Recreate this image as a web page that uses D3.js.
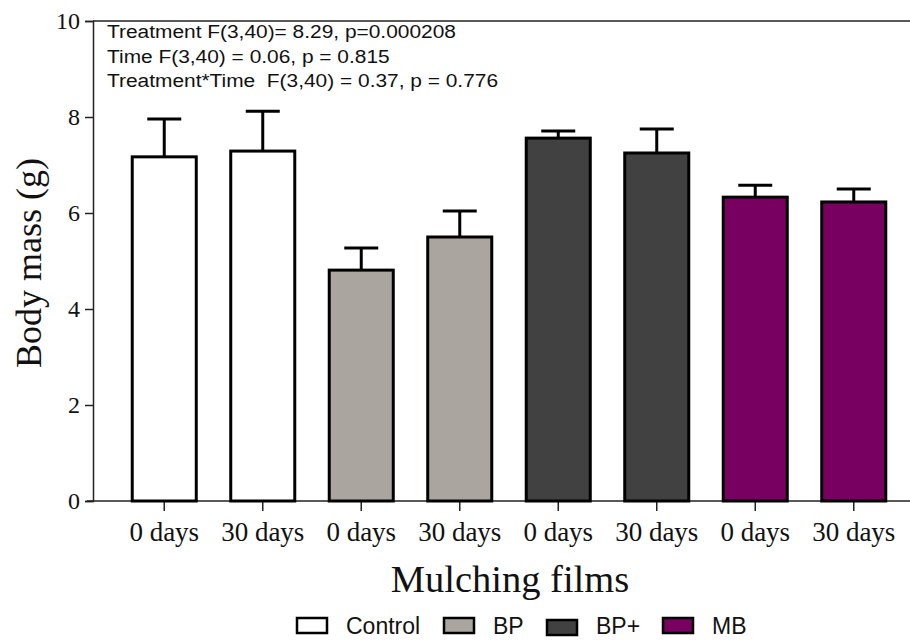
<!DOCTYPE html>
<html>
<head>
<meta charset="utf-8">
<script src="https://cdn.jsdelivr.net/npm/d3@7"></script>
<style>
  html, body { margin: 0; padding: 0; background: #fff; }
  svg { display: block; }
</style>
</head>
<body>
<svg id="chart" width="910" height="640"></svg>
<script>
// Body mass by mulching film treatment and exposure time
const timeLabels = ["0 days", "30 days", "0 days", "30 days", "0 days", "30 days", "0 days", "30 days"];
const groupOf    = ["Control", "Control", "BP", "BP", "BP+", "BP+", "MB", "MB"];
const meanMass   = [7.17, 7.29, 4.81, 5.50, 7.56, 7.25, 6.33, 6.23];
const errUpper   = [0.79, 0.83, 0.46, 0.54, 0.15, 0.50, 0.25, 0.27];
const groups     = ["Control", "BP", "BP+", "MB"];
const groupFill  = ["#ffffff", "#aaa59f", "#414141", "#780060"];
const yTicks     = [0, 2, 4, 6, 8, 10];
const statLines  = [
  "Treatment F(3,40)= 8.29, p=0.000208",
  "Time F(3,40) = 0.06, p = 0.815",
  "Treatment*Time  F(3,40) = 0.37, p = 0.776"
];

const svg = d3.select("#chart");
const plotLeft = 93, plotTop = 21, plotBottom = 501, plotRight = 910;
const serif = "'Liberation Serif', 'Times New Roman', serif";
const sans = "'Liberation Sans', Arial, sans-serif";

const x = d3.scaleBand()
  .domain(d3.range(meanMass.length))
  .range([115, 903])
  .paddingInner(0.35)
  .paddingOuter(0.175);

const y = d3.scaleLinear().domain([0, 10]).range([plotBottom, plotTop]);
const fill = d3.scaleOrdinal().domain(groups).range(groupFill);

// top border of the plot area
svg.append("line").attr("x1", plotLeft).attr("x2", plotRight).attr("y1", plotTop).attr("y2", plotTop)
  .attr("stroke", "#222").attr("stroke-width", 1.5);

// y axis
const yAxis = svg.append("g").attr("transform", `translate(${plotLeft},0)`)
  .call(d3.axisLeft(y).tickValues(yTicks).tickSize(8).tickPadding(5).tickFormat(d3.format("d")));
yAxis.select(".domain").attr("stroke", "#222").attr("stroke-width", 1.5);
yAxis.selectAll(".tick line").attr("stroke", "#222").attr("stroke-width", 1.5);
yAxis.selectAll("text").attr("font-family", serif).attr("font-size", 24).attr("fill", "#111");

// x axis
const xAxis = svg.append("g").attr("transform", `translate(0,${plotBottom})`)
  .call(d3.axisBottom(x).tickSize(10).tickPadding(11).tickFormat(i => timeLabels[i]));
xAxis.select(".domain").remove();
xAxis.append("line").attr("x1", plotLeft - 6).attr("x2", plotRight).attr("stroke", "#222").attr("stroke-width", 1.5);
xAxis.selectAll(".tick line").attr("stroke", "#222").attr("stroke-width", 1.5);
xAxis.selectAll("text").attr("font-family", serif).attr("font-size", 27).attr("fill", "#111");

// error bars (upper only)
const capHalf = 17;
const errs = svg.append("g");
meanMass.forEach((m, i) => {
  const cx = x(i) + x.bandwidth() / 2;
  errs.append("line").attr("x1", cx).attr("x2", cx)
    .attr("y1", y(m)).attr("y2", y(m + errUpper[i]))
    .attr("stroke", "#000").attr("stroke-width", 3);
  errs.append("line").attr("x1", cx - capHalf).attr("x2", cx + capHalf)
    .attr("y1", y(m + errUpper[i])).attr("y2", y(m + errUpper[i]))
    .attr("stroke", "#000").attr("stroke-width", 3);
});

// bars
svg.append("g").selectAll("rect").data(meanMass).join("rect")
  .attr("x", (d, i) => x(i))
  .attr("width", x.bandwidth())
  .attr("y", d => y(d))
  .attr("height", d => y(0) - y(d))
  .attr("fill", (d, i) => fill(groupOf[i]))
  .attr("stroke", "#000").attr("stroke-width", 3);

// statistics text (slightly widened sans face)
svg.append("g")
  .attr("transform", "translate(107,0) scale(1.1,1)")
  .selectAll("text").data(statLines).join("text")
  .attr("x", 0).attr("y", (d, i) => 38.5 + i * 24.3)
  .attr("font-family", sans).attr("font-size", 19).attr("fill", "#111")
  .style("white-space", "pre")
  .text(d => d);

// axis titles
svg.append("text")
  .attr("transform", "translate(41,263) rotate(-90)")
  .attr("text-anchor", "middle")
  .attr("font-family", serif).attr("font-size", 36).attr("fill", "#111")
  .text("Body mass (g)");

svg.append("text")
  .attr("x", 510).attr("y", 592)
  .attr("text-anchor", "middle")
  .attr("font-family", serif).attr("font-size", 38.5).attr("fill", "#111")
  .text("Mulching films");

// legend
const legendX = [297, 444, 547, 663];
const legend = svg.append("g");
groups.forEach((g, i) => {
  legend.append("rect")
    .attr("x", legendX[i]).attr("y", 618 + (g === "BP+" ? 2 : 0))
    .attr("width", 30).attr("height", 15)
    .attr("fill", groupFill[i]).attr("stroke", "#000").attr("stroke-width", 2.5);
  legend.append("text")
    .attr("x", legendX[i] + 49).attr("y", 634)
    .attr("font-family", sans).attr("font-size", 23).attr("fill", "#111")
    .text(g);
});
</script>
</body>
</html>
